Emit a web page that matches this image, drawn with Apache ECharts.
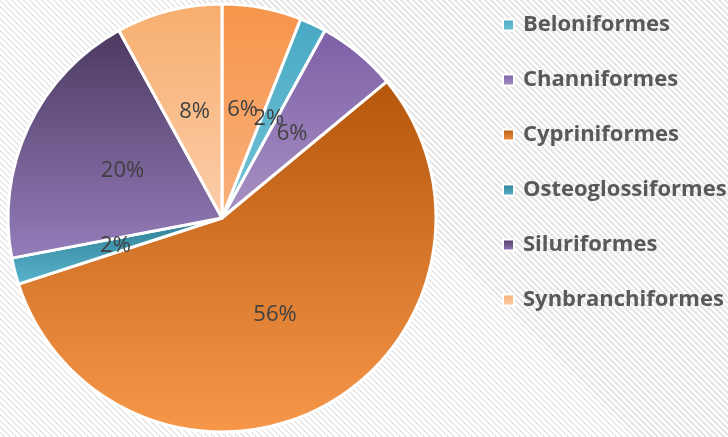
<!DOCTYPE html>
<html>
<head>
<meta charset="utf-8">
<script src="https://cdn.jsdelivr.net/npm/echarts@6/dist/echarts.min.js"></script>
<style>
  html, body { margin: 0; padding: 0; }
  #chart {
    width: 728px; height: 437px;
    background: repeating-linear-gradient(45deg, #ffffff 0px, #ffffff 2.4px, #e6e6e6 2.4px, #e6e6e6 4.24px);
  }
</style>
</head>
<body>
<div id="chart"></div>
<script>
// order names, first slice has no legend entry
var orders = ['', 'Beloniformes', 'Channiformes', 'Cypriniformes', 'Osteoglossiformes', 'Siluriformes', 'Synbranchiformes'];
var shares = [6, 2, 6, 56, 2, 20, 8];
// top / bottom gradient colours per slice
var topColors = ['#F6944A', '#48A9C4', '#7C5FA6', '#B4560B', '#2E7C92', '#4B3960', '#F7AE6E'];
var bottomColors = ['#F9B27E', '#74C3D7', '#A892C4', '#F7974A', '#5AB6CE', '#957DBB', '#FCCDAA'];

var chart = echarts.init(document.getElementById('chart'));

var pieData = [];
for (var i = 0; i < orders.length; i++) {
  pieData.push({
    name: orders[i],
    value: shares[i],
    itemStyle: {
      color: new echarts.graphic.LinearGradient(0, 0, 0, 1, [
        { offset: 0, color: topColors[i] },
        { offset: 1, color: bottomColors[i] }
      ])
    }
  });
}

chart.setOption({
  backgroundColor: 'transparent',
  animation: false,
  legend: {
    orient: 'vertical',
    left: 497,
    top: 9,
    itemGap: 33,
    itemWidth: 11,
    itemHeight: 11,
    icon: 'rect',
    data: orders.slice(1),
    textStyle: {
      fontFamily: 'Open Sans',
      fontWeight: 'bold',
      fontSize: 22,
      color: '#595959',
      padding: [0, 0, 0, 4]
    }
  },
  series: [{
    type: 'pie',
    center: [222, 218],
    radius: [0, 214],
    startAngle: 90,
    clockwise: true,
    avoidLabelOverlap: false,
    minShowLabelAngle: 0,
    labelLayout: { hideOverlap: false },
    data: pieData,
    itemStyle: {
      borderColor: '#ffffff',
      borderWidth: 3
    },
    label: {
      show: true,
      position: 'inside',
      formatter: function (p) { return p.value + '%'; },
      fontFamily: 'Open Sans',
      fontSize: 22,
      color: '#404040'
    },
    labelLine: { show: false },
    emphasis: { disabled: true }
  }]
});
</script>
</body>
</html>
